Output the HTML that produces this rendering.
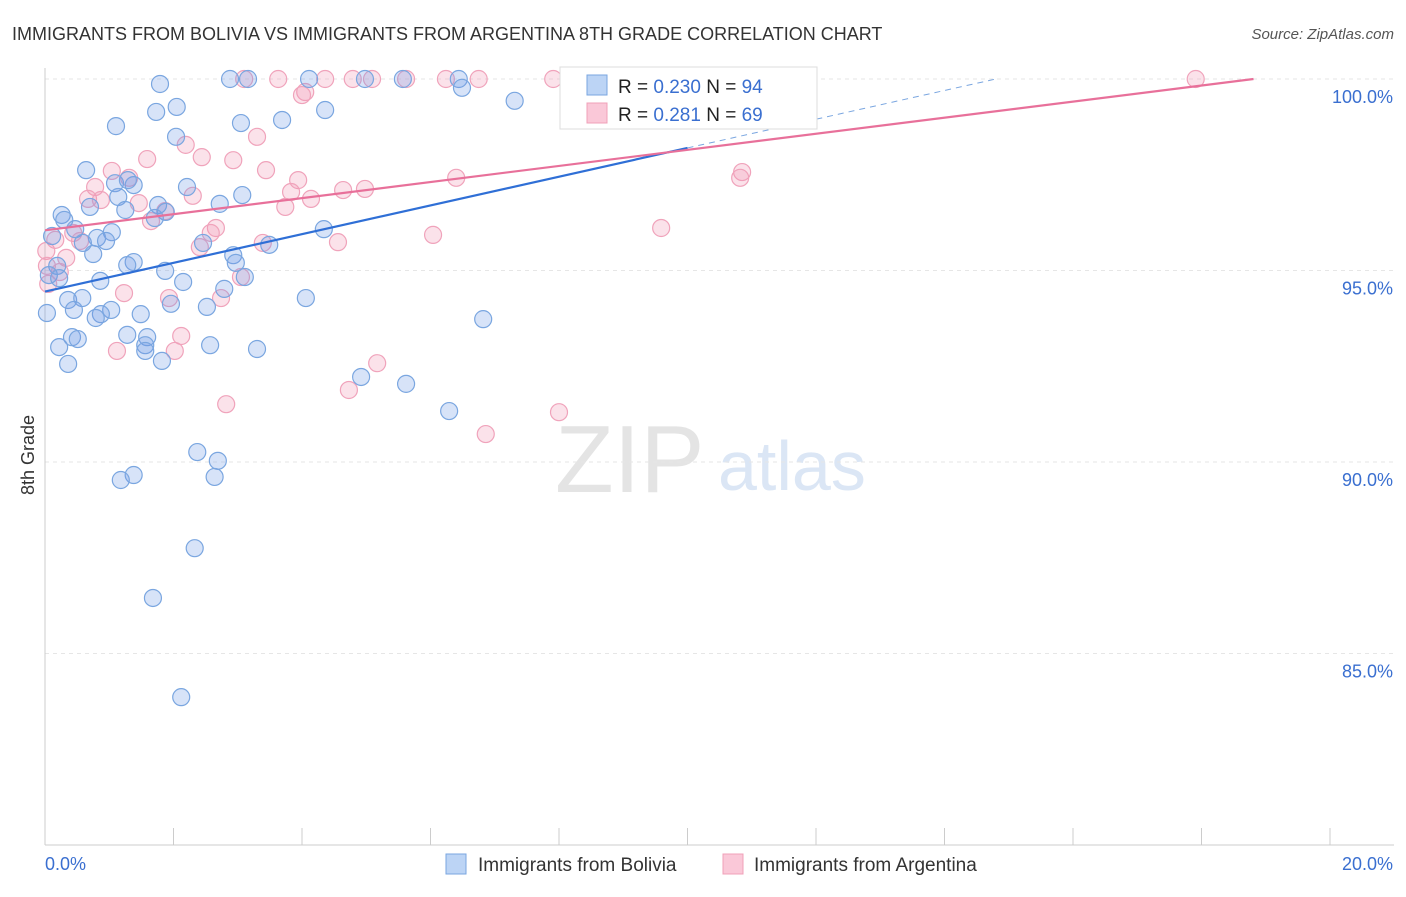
<!DOCTYPE html>
<html><head><meta charset="utf-8"><style>
body{margin:0;background:#fff;font-family:"Liberation Sans",sans-serif;}
svg text{font-family:"Liberation Sans",sans-serif;}
</style></head><body>
<svg id="c" width="1406" height="892">
<text x="12" y="40" font-size="18" fill="#333">IMMIGRANTS FROM BOLIVIA VS IMMIGRANTS FROM ARGENTINA 8TH GRADE CORRELATION CHART</text>
<text x="1394" y="39" font-size="15" fill="#555" font-style="italic" text-anchor="end">Source: ZipAtlas.com</text>
<text x="34" y="455" font-size="18" fill="#333" transform="rotate(-90 34 455)" text-anchor="middle">8th Grade</text>
<text x="555" y="492" font-size="96" fill="#e4e4e4" font-family="Liberation Serif">ZIP</text>
<text x="718" y="490" font-size="70" fill="#dbe6f5">atlas</text>
<g id="grid"></g><g id="pts"></g><g id="lines"></g>
<g>
<rect x="560" y="67" width="257" height="62" fill="#fff" stroke="#ddd"/>
<rect x="587" y="75" width="20" height="20" fill="#bcd4f5" stroke="#7aa6e0"/>
<rect x="587" y="103" width="20" height="20" fill="#fac8d8" stroke="#f0a0b8"/>
<text x="618" y="93" font-size="19" fill="#222">R = <tspan fill="#3a6fd0">0.230</tspan>   N = <tspan fill="#3a6fd0">94</tspan></text>
<text x="618" y="121" font-size="19" fill="#222">R =  <tspan fill="#3a6fd0">0.281</tspan>   N = <tspan fill="#3a6fd0">69</tspan></text>
</g>
<g>
<rect x="446" y="854" width="20" height="20" fill="#bcd4f5" stroke="#7aa6e0"/>
<text x="478" y="871" font-size="19" fill="#333">Immigrants from Bolivia</text>
<rect x="723" y="854" width="20" height="20" fill="#fac8d8" stroke="#f0a0b8"/>
<text x="754" y="871" font-size="19" fill="#333">Immigrants from Argentina</text>
</g>
</svg>
<script>
const yTicks=[100,95,90,85];
const xTickLabels=["0.0%","20.0%"];
const blueX=[1.79,2.88,3.16,4.11,4.98,5.57,6.44,6.49,7.31,2.05,1.73,4.36,1.105,3.05,3.69,2.04,0.64,1.09,1.38,1.29,2.21,3.07,1.14,2.72,1.76,0.70,0.26,1.25,1.88,1.71,0.30,0.47,0.11,1.04,4.34,0.81,0.59,0.95,2.46,3.49,0.75,2.93,1.38,1.28,0.19,2.97,0.06,3.11,1.87,0.22,0.86,2.15,2.79,0.36,0.58,4.06,1.96,2.52,0.45,0.03,1.03,0.87,0.79,1.49,6.82,0.42,0.51,1.28,1.59,0.22,2.57,1.56,1.56,3.30,1.82,0.36,4.92,5.62,6.29,2.37,2.69,1.38,1.18,2.64,2.33,1.68,2.12];
const blueY=[99.87,100,100,100,100,100,100,99.77,99.43,99.27,99.14,99.19,98.77,98.85,98.93,98.49,97.62,97.28,97.23,97.36,97.18,96.97,96.92,96.74,96.71,96.66,96.45,96.58,96.53,96.37,96.32,96.08,95.90,96.00,96.08,95.85,95.72,95.77,95.72,95.67,95.43,95.40,95.22,95.14,95.12,95.20,94.88,94.83,94.99,94.80,94.73,94.70,94.52,94.23,94.28,94.28,94.13,94.05,93.97,93.89,93.97,93.86,93.76,93.86,93.73,93.26,93.21,93.32,93.26,93.00,93.05,93.05,92.90,92.95,92.64,92.56,92.22,92.04,91.33,90.26,90.03,89.66,89.53,89.61,87.75,86.45,83.86];
const pinkX=[3.10,3.63,4.36,4.79,5.09,5.62,6.24,6.75,7.91,8.19,17.91,4.05,4.00,3.30,2.19,2.44,1.59,2.93,1.04,3.44,10.85,10.82,6.40,3.94,1.31,0.78,3.83,4.64,4.98,2.30,0.67,0.87,1.46,4.14,3.74,1.87,1.65,2.66,2.58,0.44,9.59,6.04,0.16,0.545,3.39,4.56,2.41,0.02,0.33,0.03,0.23,3.05,0.05,1.23,1.93,2.74,2.12,1.12,2.02,5.17,4.73,2.82,8.00,6.86];
const pinkY=[100,100,100,100,100,100,100,100,100,100,100,99.66,99.58,98.49,98.28,97.96,97.91,97.88,97.60,97.62,97.57,97.42,97.42,97.36,97.42,97.18,97.05,97.10,97.13,96.95,96.87,96.84,96.76,96.87,96.66,96.55,96.29,96.11,95.98,95.98,96.11,95.93,95.80,95.77,95.72,95.74,95.61,95.51,95.33,95.12,94.96,94.83,94.65,94.41,94.28,94.28,93.29,92.90,92.90,92.58,91.88,91.51,91.30,90.73];
const blueFit=[94.45,0.375];
const pinkFit=[96.05,0.21];
const X=v=>45+v/20*1285, Y=v=>79+(100-v)*38.3;
const NS="http://www.w3.org/2000/svg";
function mk(p,t,a){const e=document.createElementNS(NS,t);for(const k in a)e.setAttribute(k,a[k]);p.appendChild(e);return e;}
const svg=document.getElementById('c'),grid=document.getElementById('grid'),pts=document.getElementById('pts'),lines=document.getElementById('lines');
mk(grid,'line',{x1:45,x2:1394,y1:79,y2:79,stroke:'#e6e6e6','stroke-dasharray':'4 4'});
yTicks.forEach(t=>{
 const g=mk(grid,'line',{x1:45,x2:1394,y1:Y(t),y2:Y(t),stroke:'#e6e6e6','stroke-dasharray':'4 4'});
 
 
 const tx=mk(grid,'text',{x:1393,y:Y(t)+24,'text-anchor':'end','font-size':18,fill:'#3a6fd0'});
 tx.textContent=t.toFixed(1)+'%';
 
 
});
mk(grid,'line',{x1:45,x2:45,y1:68,y2:845,stroke:'#ccc'});
mk(grid,'line',{x1:45,x2:1394,y1:845,y2:845,stroke:'#ccc'});
for(let i=0;i<=10;i++){mk(grid,'line',{x1:X(i*2),x2:X(i*2),y1:828,y2:845,stroke:'#ccc'});}
xTickLabels.forEach((l,i)=>{const t=mk(grid,'text',{x:i?1393:45,y:870,'text-anchor':i?'end':'start','font-size':18,fill:'#3a6fd0'});t.textContent=l;
 
 });
pinkX.forEach((x,i)=>{const c=mk(pts,'circle',{cx:X(x),cy:Y(pinkY[i]),r:8.5,fill:'rgba(242,150,180,0.28)',stroke:'#f0a3bb','stroke-width':1.2});
 
 });
blueX.forEach((x,i)=>{const c=mk(pts,'circle',{cx:X(x),cy:Y(blueY[i]),r:8.5,fill:'rgba(110,155,230,0.28)',stroke:'#7aa6e0','stroke-width':1.2});
 
 });
const f=(fit,x)=>fit[0]+fit[1]*x;
let l=mk(lines,'line',{x1:X(0),y1:Y(f(blueFit,0)),x2:X(10),y2:Y(f(blueFit,10)),stroke:'#2f6fd6','stroke-width':2.2});


const bx=(100-blueFit[0])/blueFit[1];
l=mk(lines,'line',{x1:X(10),y1:Y(f(blueFit,10)),x2:X(bx),y2:Y(100),stroke:'#7aa6e0','stroke-width':1,'stroke-dasharray':'6 5'});


const px=(100-pinkFit[0])/pinkFit[1];
l=mk(lines,'line',{x1:X(0),y1:Y(f(pinkFit,0)),x2:X(px),y2:Y(100),stroke:'#e8709a','stroke-width':2.2});


</script>
</body></html>
